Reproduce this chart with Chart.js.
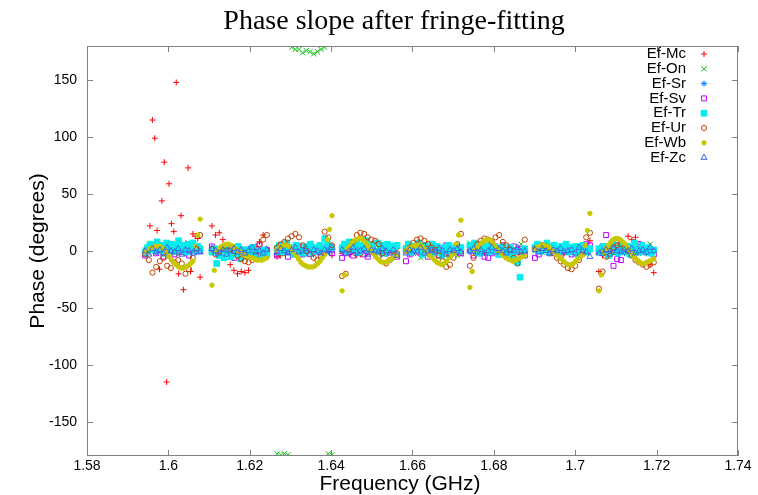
<!DOCTYPE html>
<html>
<head>
<meta charset="utf-8">
<title>Phase slope after fringe-fitting</title>
<script src="https://cdn.jsdelivr.net/npm/chart.js@4.4.1/dist/chart.umd.min.js"></script>
<style>
  html, body { margin: 0; padding: 0; background: #fff; }
</style>
</head>
<body>
<canvas id="phaseChart" width="758" height="495"></canvas>
<script>
// Axis ticks
const xTicks = [1.58, 1.60, 1.62, 1.64, 1.66, 1.68, 1.70, 1.72, 1.74];
const yTicks = [-150, -100, -50, 0, 50, 100, 150];

// First channel frequency (GHz) of each IF and the span its channels cover
const bandStarts = [1.5943, 1.6107, 1.6267, 1.6427, 1.6584, 1.6741, 1.6901, 1.7058];
const bandSpan = 0.0135;

const baselines = ['Ef-Mc', 'Ef-On', 'Ef-Sr', 'Ef-Sv', 'Ef-Tr', 'Ef-Ur', 'Ef-Wb', 'Ef-Zc'];

// Residual phase (degrees) per channel, one row per IF
const phaseMc = [
    [-2, 3, 22, 115, 99, 18, -16, 44, 78, -115, 59, 24, 17, 148, -20, 31, -34, 7, 73, -18, 15, 13, 11, -23],
    [22, 14, 16, 10, 2, -12, -17, -20, -18, -19, -17, -3, 4, 8, 14, 2],
    [-5, -4, -2, 0, 1, 0, -1, -3, -2, 0, -3, -1, 0, 2, 0, -4],
    [-2, 0, -3, -1, -4, -3, 0, -2, -1, 1, 0, -2, -3, 0, -1, 2],
    [0, -2, 1, -1, 2, 0, -3, -1, 0, 2, 1, -2, 0, 1, -1, 3],
    [1, -1, 2, 0, -2, 1, 3, 0, -1, -3, 0, 2, 1, -1, 0, 2],
    [4, 2, 5, 3, 1, 0, 2, -1, -2, 0, 1, -2, 0, 2, 4, 9],
    [-18, -4, 2, 0, 3, 5, 8, 6, 13, 10, 12, 6, 3, -2, -12, -19]
];
const phaseOn = [
    [1, -2, 0, 2, -1, 3, 0, -2, 1, -3, 0, 2, -1, 1, 3, 0],
    [0, 2, -1, 1, 3, 0, -2, 1, -1, 2, 0, -3, 1, 0, 2, -1],
    [-178, -179, -178, -179, 179, 177, 177, 174, 176, 175, 173, 175, 177, 179, -178, -179],
    [2, -1, 0, 3, 1, -2, 0, 2, -1, 1, -3, 0, 2, 1, -1, 4],
    [3, 0, -2, 1, -6, 2, 0, -1, 1, 3, 0, -2, 1, -1, -4, -3],
    [7, 1, -1, 2, 0, -2, 1, 3, -1, 0, 2, -2, 0, 1, 6, 2],
    [0, 2, -1, 1, -2, 0, 3, 1, -1, 0, 2, -1, 1, 0, -2, 1],
    [-1, 3, 0, 2, -2, 1, 0, 3, -1, 2, 0, 1, -2, 0, 6, 1]
];
const phaseSr = [
    [-3, 0, 2, -1, 1, -2, 0, 3, -1, 1, 0, -2, 2, 0, -1, 1],
    [1, -2, 0, 2, -1, 0, -3, 1, 0, -1, 2, 0, -2, 1, 0, -1],
    [-2, 1, 0, -1, 2, -3, 0, 1, -2, 0, 1, -1, 0, 2, -1, 0],
    [0, -1, 2, 0, -2, 1, 0, -1, 1, -2, 0, 2, -1, 0, 1, -3],
    [1, 0, -2, 1, 0, -1, 2, 0, -2, 1, -1, 0, 2, -1, 0, 1],
    [-1, 2, 0, -2, 1, 0, -1, 2, 0, -3, 1, 0, -1, 2, 0, -1],
    [2, 0, -1, 1, -2, 0, 1, -1, 0, 2, -1, 0, 1, -2, 0, 2],
    [0, -2, 1, 0, -1, 2, 0, -2, 1, 0, -1, 1, 0, -2, 1, 0]
];
const phaseSv = [
    [-4, 2, 5, -2, 3, -5, 1, 6, -3, 2, -1, 4, -4, 1, 3, 0],
    [4, 1, -3, 2, -5, 0, -6, 3, -2, 1, -4, 2, -1, 5, -3, 1],
    [-4, 1, 3, -5, 2, -2, 4, -3, 0, 5, -1, 2, -4, 3, 1, -2],
    [-6, -2, 3, -4, 1, 5, -3, -5, 2, 0, -4, 4, -2, 1, 3, -5],
    [-9, -3, 2, 4, -2, 1, -5, 3, 0, -4, 2, 5, -3, 1, 4, -2],
    [2, -4, 1, 3, -5, -6, -2, 4, 0, 5, 3, -3, 4, -1, 2, -4],
    [-6, -3, 1, 3, -2, 4, -1, -4, 2, 0, -3, 2, -1, 3, 6, 5],
    [0, 4, 14, 2, -13, -7, -8, 0, 3, 1, 4, 6, 0, 2, -1, -3]
];
const phaseTr = [
    [-1, 3, 6, 1, 4, 8, 2, 5, -2, 7, 3, 6, 0, 4, 9, 2, 5, -1, 6, 3, 7, 1, 4, 2],
    [-1, 2, -11, -4, 1, -6, -1, 2, -5, 0, -3, 4, -7, -2, 1, -5, -1, 3, -4, 0, -6, -2, 1, -3],
    [2, 5, -1, 4, 7, 1, 3, -3, 5, 0, 2, -2, 4, 1, 6, -1, 3, 0, 5, 2, 11, 8, 4, 3],
    [3, 6, 0, 8, 4, 2, 7, -1, 5, 3, 9, 1, 4, 6, 0, 7, 3, 5, -2, 6, 2, 4, 1, 5],
    [2, 6, -1, 4, 1, 7, 3, -3, 5, 0, 3, 6, -2, 4, 1, -4, 3, 0, 5, -1, 2, 4, 1, 3],
    [5, 1, 7, 3, -2, 6, 2, 4, -1, 5, 0, 3, -3, 2, 4, -2, 1, 3, -4, 0, -10, -23, 0, 2],
    [3, 6, 0, 4, 2, 7, -1, 3, 5, 1, -2, 4, 2, 6, -1, 3, 0, 4, -3, 2, 5, 1, -1, 2],
    [2, -1, 4, 0, -4, 3, 6, 1, -2, 5, 2, 0, 4, -3, 3, 7, 1, -1, 5, 2, 0, 3, -2, 1]
];
const phaseUr = [
    [-3, -8, -19, -14, -9, -6, -13, -15, -10, -8, -11, -20, -16, -6, 2, 14],
    [2, -3, 0, 3, 4, 2, 0, -4, -7, -9, -10, -8, -4, 6, 10, 14],
    [3, 6, 8, 11, 13, 15, 12, 5, 0, -3, -6, -8, -5, 17, 12, 5],
    [-22, -20, 2, 8, 14, 16, 15, 12, 10, 9, 6, -2, -11, -8, -4, -2],
    [0, 3, 7, 10, 11, 9, 6, 3, 1, -4, -9, -14, -12, -6, 6, 15],
    [-13, -6, 6, 9, 11, 10, 8, 12, 14, 8, 5, 1, -6, -11, -4, 10],
    [2, 3, 5, 4, 2, -2, -6, -9, -12, -15, -16, -13, -8, -3, 12, 16],
    [-33, -18, -5, 0, 3, 5, 6, 3, 0, -4, -8, -10, -12, -14, -12, -10]
];
const phaseWb = [
    [-1, 0, 2, 3, 4, 4, 4, 3, 1, -2, -5, -8, -10, -12, -14, -15, -15, -14, -13, -11, -9, 4, 14, 28],
    [-30, -17, 0, 2, 4, 5, 6, 6, 5, 4, 2, 0, -1, -3, -4, -5, -6, -6, -7, -8, -8, -8, -7, -6],
    [1, 3, 4, 5, 5, 4, 2, -1, -4, -7, -10, -12, -13, -14, -14, -14, -13, -11, -9, -6, -3, 10, 19, 31],
    [-35, -21, 2, 4, 7, 9, 10, 11, 11, 9, 7, 4, 1, -2, -5, -7, -9, -10, -10, -9, -8, -7, -5, -4],
    [0, 2, 3, 4, 5, 5, 5, 3, 1, -2, -4, -6, -8, -10, -11, -12, -11, -9, -6, -4, -2, 6, 14, 27],
    [-32, -18, 1, 3, 5, 7, 9, 10, 10, 9, 6, 3, 0, -2, -4, -6, -7, -8, -9, -8, -7, -6, -5, -4],
    [1, 3, 4, 5, 5, 4, 3, 1, -1, -3, -5, -7, -9, -11, -12, -12, -11, -9, -7, -5, -3, 5, 18, 33],
    [-35, -21, -1, 2, 5, 8, 10, 11, 11, 10, 8, 6, 3, 0, -3, -6, -8, -10, -11, -11, -10, -9, -8, -7]
];
const phaseZc = [
    [0, -3, 2, -1, 1, -2, 3, 0, -1, 2, -3, 1, 0, -2, 2, -1],
    [2, 0, -2, 1, -3, 0, 2, -1, 1, -2, 0, 3, -1, 0, -2, 1],
    [-1, 2, 0, -2, 1, 3, -1, 0, 2, -3, 1, 0, -2, 1, 0, 3],
    [1, -2, 0, 3, -1, 0, 2, -3, 1, 0, -1, 2, 0, -2, 1, -4],
    [-2, 1, 0, -1, 3, -2, 0, 1, -1, 2, 0, -3, 1, 0, 2, -1],
    [0, 2, -1, 1, -2, 0, 3, -1, 2, 0, -2, 1, 0, 3, -1, 0],
    [1, -1, 2, 0, -2, 1, 0, 2, -1, 0, 1, -2, 3, 0, -1, -5],
    [-2, 0, 1, -3, 2, 0, -1, 1, 0, 2, -2, 0, 1, -1, 3, 0]
];

const phases = [phaseMc, phaseOn, phaseSr, phaseSv, phaseTr, phaseUr, phaseWb, phaseZc];

// gnuplot-like point types for each baseline
const markerStyles = [
    { pointStyle: 'cross',    color: '#ff0000', radius: 3,   filled: false },
    { pointStyle: 'crossRot', color: '#00c000', radius: 3.5, filled: false },
    { pointStyle: 'star',     color: '#0080ff', radius: 3,   filled: false },
    { pointStyle: 'rect',     color: '#c000ff', radius: 3.5, filled: false },
    { pointStyle: 'rect',     color: '#00eeee', radius: 4,   filled: true },
    { pointStyle: 'circle',   color: '#c04000', radius: 2.6, filled: false },
    { pointStyle: 'circle',   color: '#c8c800', radius: 2.2, filled: true },
    { pointStyle: 'triangle', color: '#4169e1', radius: 3.5, filled: false }
];

// Spread each IF row over its channel frequencies
function toPoints(rows) {
    const pts = [];
    rows.forEach((row, band) => {
        row.forEach((phase, ch) => {
            pts.push({ x: bandStarts[band] + bandSpan * ch / (row.length - 1), y: phase });
        });
    });
    return pts;
}

const datasets = baselines.map((name, i) => {
    const s = markerStyles[i];
    return {
        label: name,
        data: toPoints(phases[i]),
        pointStyle: s.pointStyle,
        pointRadius: s.radius,
        pointHoverRadius: s.radius,
        pointBorderWidth: 1,
        borderColor: s.color,
        backgroundColor: s.filled ? s.color : 'rgba(0,0,0,0)',
        showLine: false,
        order: baselines.length - i   // later baselines drawn on top, like gnuplot
    };
});

// Frame with inward ticks, titles and the key, gnuplot style
const gnuplotFrame = {
    id: 'gnuplotFrame',
    afterDraw(chart) {
        const { ctx, chartArea: a, scales } = chart;
        const tick = 6;
        ctx.save();
        ctx.strokeStyle = '#808080';
        ctx.lineWidth = 1;
        ctx.strokeRect(a.left + 0.5, a.top + 0.5, a.right - a.left - 1, a.bottom - a.top - 1);
        ctx.beginPath();
        xTicks.forEach(v => {
            const px = Math.round(scales.x.getPixelForValue(v)) + 0.5;
            ctx.moveTo(px, a.bottom); ctx.lineTo(px, a.bottom - tick);
            ctx.moveTo(px, a.top); ctx.lineTo(px, a.top + tick);
        });
        yTicks.forEach(v => {
            const py = Math.round(scales.y.getPixelForValue(v)) + 0.5;
            ctx.moveTo(a.left, py); ctx.lineTo(a.left + tick, py);
            ctx.moveTo(a.right, py); ctx.lineTo(a.right - tick, py);
        });
        ctx.stroke();

        // Titles
        ctx.fillStyle = '#000';
        ctx.textAlign = 'center';
        ctx.textBaseline = 'middle';
        ctx.font = '28px "Liberation Serif", "DejaVu Serif", serif';
        ctx.fillText('Phase slope after fringe-fitting', 394, 22);
        ctx.font = '21px "Liberation Sans", Arial, sans-serif';
        ctx.fillText('Frequency (GHz)', 400, 484);
        ctx.save();
        ctx.translate(38, 251);
        ctx.rotate(-Math.PI / 2);
        ctx.fillText('Phase (degrees)', 0, 0);
        ctx.restore();

        // Key
        ctx.font = '15px "Liberation Sans", Arial, sans-serif';
        ctx.textAlign = 'right';
        chart.data.datasets.forEach((ds, i) => {
            const y = 54 + i * 14.8;
            ctx.fillStyle = '#000';
            ctx.fillText(ds.label, 686, y);
            ctx.strokeStyle = ds.borderColor;
            ctx.fillStyle = ds.backgroundColor;
            ctx.lineWidth = 1;
            Chart.helpers.drawPoint(ctx, {
                pointStyle: ds.pointStyle,
                rotation: 0,
                radius: ds.pointRadius,
                borderWidth: 1
            }, 704, y);
        });
        ctx.restore();
    }
};

const tickFont = { family: '"Liberation Sans", Arial, sans-serif', size: 14 };

new Chart(document.getElementById('phaseChart'), {
    type: 'scatter',
    data: { datasets },
    options: {
        responsive: false,
        devicePixelRatio: 1,
        animation: false,
        layout: { padding: { top: 46, right: 20, bottom: 0, left: 0 } },
        plugins: {
            legend: { display: false },
            tooltip: { enabled: false }
        },
        scales: {
            x: {
                type: 'linear',
                min: 1.58,
                max: 1.74,
                grid: { display: false, drawTicks: false },
                border: { display: false },
                afterBuildTicks: scale => { scale.ticks = xTicks.map(v => ({ value: v })); },
                afterFit: scale => { scale.height = 39; },
                ticks: {
                    color: '#000',
                    font: tickFont,
                    padding: 2,
                    maxRotation: 0,
                    callback: v => String(parseFloat(Number(v).toFixed(2)))
                }
            },
            y: {
                type: 'linear',
                min: -180,
                max: 180,
                grid: { display: false, drawTicks: false },
                border: { display: false },
                afterBuildTicks: scale => { scale.ticks = yTicks.map(v => ({ value: v })); },
                afterFit: scale => { scale.width = 87; },
                ticks: {
                    color: '#000',
                    font: tickFont,
                    padding: 10
                }
            }
        }
    },
    plugins: [gnuplotFrame]
});
</script>
</body>
</html>
